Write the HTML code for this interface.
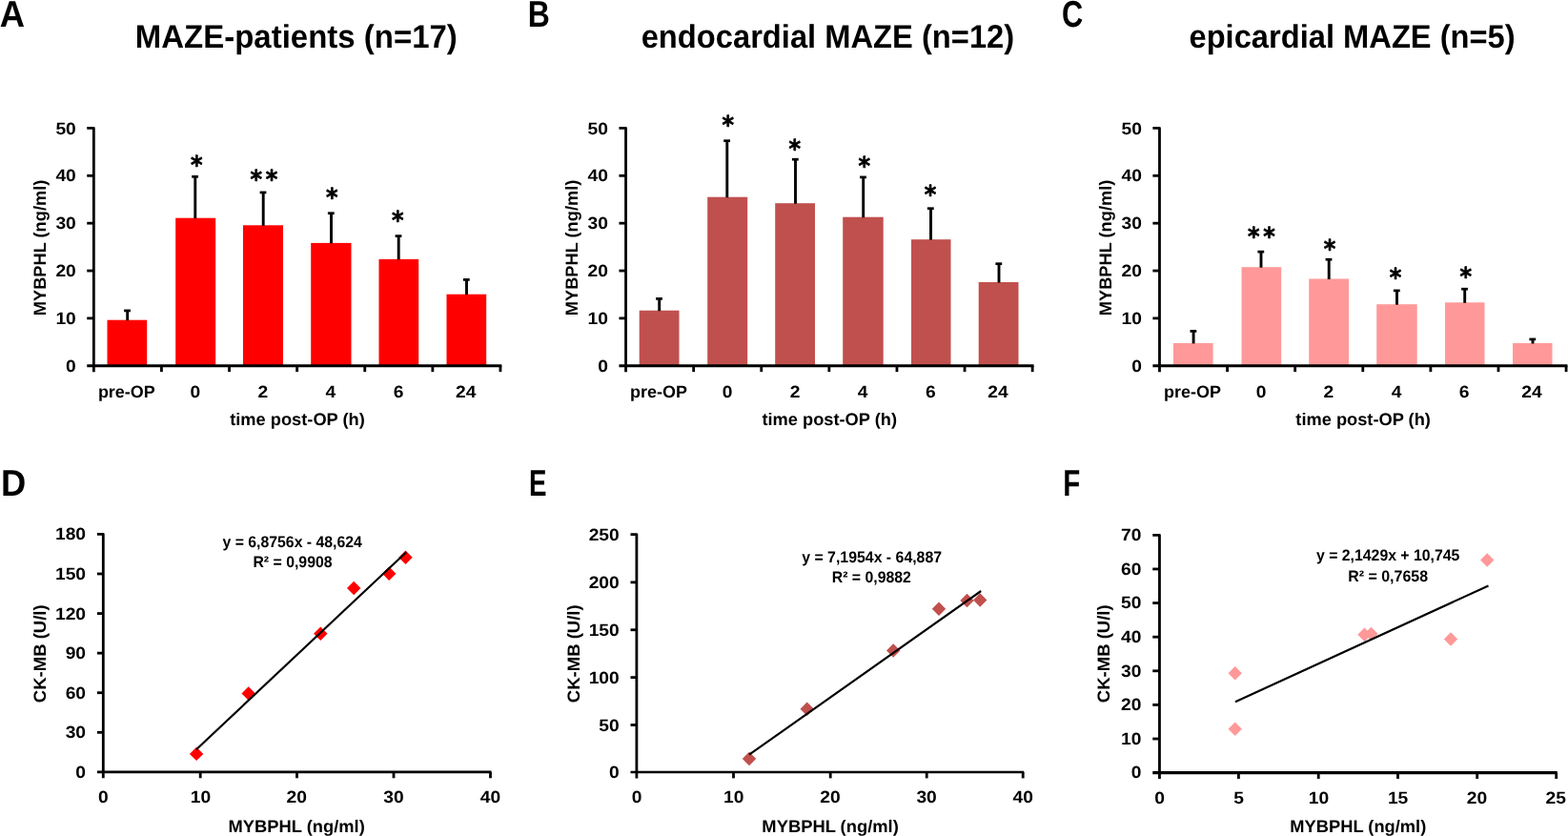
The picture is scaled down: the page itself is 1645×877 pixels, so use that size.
<!DOCTYPE html>
<html lang="en"><head><meta charset="utf-8"><title>MYBPHL and CK-MB after MAZE procedure</title>
<style>
html,body{margin:0;padding:0;background:#fff;}
body{width:1645px;height:877px;overflow:hidden;}
svg{display:block;}
text{font-family:"Liberation Sans", sans-serif;font-weight:bold;fill:#000;text-rendering:geometricPrecision;}
text.s{font-family:"DejaVu Sans","Liberation Sans",sans-serif;stroke:#000;stroke-width:0.75px;stroke-linejoin:round;}
</style></head><body>
<svg width="1645" height="877" viewBox="0 0 1645 877">
<rect width="1645" height="877" fill="#fff"/>
<g>
<rect x="112.50" y="335.70" width="41.70" height="48.03" fill="#FF0000"/>
<rect x="184.20" y="228.70" width="42.00" height="155.03" fill="#FF0000"/>
<rect x="255.00" y="236.30" width="42.00" height="147.43" fill="#FF0000"/>
<rect x="326.20" y="254.90" width="42.30" height="128.83" fill="#FF0000"/>
<rect x="397.50" y="271.90" width="41.70" height="111.83" fill="#FF0000"/>
<rect x="468.50" y="308.70" width="41.70" height="75.03" fill="#FF0000"/>
<line x1="133.70" y1="325.90" x2="133.70" y2="336.20" stroke="#000" stroke-width="2.9" stroke-linecap="butt"/>
<line x1="130.10" y1="325.90" x2="136.90" y2="325.90" stroke="#000" stroke-width="2.7" stroke-linecap="butt"/>
<line x1="204.80" y1="185.30" x2="204.80" y2="229.20" stroke="#000" stroke-width="2.9" stroke-linecap="butt"/>
<line x1="201.20" y1="185.30" x2="208.00" y2="185.30" stroke="#000" stroke-width="2.7" stroke-linecap="butt"/>
<line x1="276.20" y1="201.90" x2="276.20" y2="236.80" stroke="#000" stroke-width="2.9" stroke-linecap="butt"/>
<line x1="272.60" y1="201.90" x2="279.40" y2="201.90" stroke="#000" stroke-width="2.7" stroke-linecap="butt"/>
<line x1="347.50" y1="223.70" x2="347.50" y2="255.40" stroke="#000" stroke-width="2.9" stroke-linecap="butt"/>
<line x1="343.90" y1="223.70" x2="350.70" y2="223.70" stroke="#000" stroke-width="2.7" stroke-linecap="butt"/>
<line x1="418.20" y1="247.60" x2="418.20" y2="272.40" stroke="#000" stroke-width="2.9" stroke-linecap="butt"/>
<line x1="414.60" y1="247.60" x2="421.40" y2="247.60" stroke="#000" stroke-width="2.7" stroke-linecap="butt"/>
<line x1="489.50" y1="293.40" x2="489.50" y2="309.20" stroke="#000" stroke-width="2.9" stroke-linecap="butt"/>
<line x1="485.90" y1="293.40" x2="492.70" y2="293.40" stroke="#000" stroke-width="2.7" stroke-linecap="butt"/>
<path d="M91.25 134.47L98.35 134.47L98.35 390.13" fill="none" stroke="#000" stroke-width="2.8" stroke-linejoin="round" stroke-linecap="butt"/>
<line x1="91.25" y1="383.73" x2="526.35" y2="383.73" stroke="#000" stroke-width="3.0" stroke-linecap="butt"/>
<line x1="91.25" y1="333.88" x2="98.35" y2="333.88" stroke="#000" stroke-width="2.8" stroke-linecap="butt"/>
<line x1="91.25" y1="284.03" x2="98.35" y2="284.03" stroke="#000" stroke-width="2.8" stroke-linecap="butt"/>
<line x1="91.25" y1="234.17" x2="98.35" y2="234.17" stroke="#000" stroke-width="2.8" stroke-linecap="butt"/>
<line x1="91.25" y1="184.32" x2="98.35" y2="184.32" stroke="#000" stroke-width="2.8" stroke-linecap="butt"/>
<line x1="169.45" y1="383.73" x2="169.45" y2="390.13" stroke="#000" stroke-width="2.8" stroke-linecap="butt"/>
<line x1="240.55" y1="383.73" x2="240.55" y2="390.13" stroke="#000" stroke-width="2.8" stroke-linecap="butt"/>
<line x1="311.65" y1="383.73" x2="311.65" y2="390.13" stroke="#000" stroke-width="2.8" stroke-linecap="butt"/>
<line x1="382.75" y1="383.73" x2="382.75" y2="390.13" stroke="#000" stroke-width="2.8" stroke-linecap="butt"/>
<line x1="453.85" y1="383.73" x2="453.85" y2="390.13" stroke="#000" stroke-width="2.8" stroke-linecap="butt"/>
<line x1="524.95" y1="383.73" x2="524.95" y2="390.13" stroke="#000" stroke-width="2.8" stroke-linecap="butt"/>
</g>
<g>
<rect x="670.70" y="325.70" width="41.80" height="58.03" fill="#C0504D"/>
<rect x="742.20" y="206.70" width="42.00" height="177.03" fill="#C0504D"/>
<rect x="813.20" y="213.20" width="41.80" height="170.53" fill="#C0504D"/>
<rect x="884.20" y="227.70" width="42.50" height="156.03" fill="#C0504D"/>
<rect x="956.00" y="251.20" width="41.50" height="132.53" fill="#C0504D"/>
<rect x="1026.70" y="296.00" width="41.80" height="87.73" fill="#C0504D"/>
<line x1="691.70" y1="313.40" x2="691.70" y2="326.20" stroke="#000" stroke-width="2.9" stroke-linecap="butt"/>
<line x1="688.10" y1="313.40" x2="694.90" y2="313.40" stroke="#000" stroke-width="2.7" stroke-linecap="butt"/>
<line x1="762.80" y1="147.70" x2="762.80" y2="207.20" stroke="#000" stroke-width="2.9" stroke-linecap="butt"/>
<line x1="759.20" y1="147.70" x2="766.00" y2="147.70" stroke="#000" stroke-width="2.7" stroke-linecap="butt"/>
<line x1="834.50" y1="167.20" x2="834.50" y2="213.70" stroke="#000" stroke-width="2.9" stroke-linecap="butt"/>
<line x1="830.90" y1="167.20" x2="837.70" y2="167.20" stroke="#000" stroke-width="2.7" stroke-linecap="butt"/>
<line x1="905.70" y1="185.90" x2="905.70" y2="228.20" stroke="#000" stroke-width="2.9" stroke-linecap="butt"/>
<line x1="902.10" y1="185.90" x2="908.90" y2="185.90" stroke="#000" stroke-width="2.7" stroke-linecap="butt"/>
<line x1="976.50" y1="218.70" x2="976.50" y2="251.70" stroke="#000" stroke-width="2.9" stroke-linecap="butt"/>
<line x1="972.90" y1="218.70" x2="979.70" y2="218.70" stroke="#000" stroke-width="2.7" stroke-linecap="butt"/>
<line x1="1048.00" y1="276.70" x2="1048.00" y2="296.50" stroke="#000" stroke-width="2.9" stroke-linecap="butt"/>
<line x1="1044.40" y1="276.70" x2="1051.20" y2="276.70" stroke="#000" stroke-width="2.7" stroke-linecap="butt"/>
<path d="M649.45 134.47L656.55 134.47L656.55 390.13" fill="none" stroke="#000" stroke-width="2.8" stroke-linejoin="round" stroke-linecap="butt"/>
<line x1="649.45" y1="383.73" x2="1084.55" y2="383.73" stroke="#000" stroke-width="3.0" stroke-linecap="butt"/>
<line x1="649.45" y1="333.88" x2="656.55" y2="333.88" stroke="#000" stroke-width="2.8" stroke-linecap="butt"/>
<line x1="649.45" y1="284.03" x2="656.55" y2="284.03" stroke="#000" stroke-width="2.8" stroke-linecap="butt"/>
<line x1="649.45" y1="234.17" x2="656.55" y2="234.17" stroke="#000" stroke-width="2.8" stroke-linecap="butt"/>
<line x1="649.45" y1="184.32" x2="656.55" y2="184.32" stroke="#000" stroke-width="2.8" stroke-linecap="butt"/>
<line x1="727.65" y1="383.73" x2="727.65" y2="390.13" stroke="#000" stroke-width="2.8" stroke-linecap="butt"/>
<line x1="798.75" y1="383.73" x2="798.75" y2="390.13" stroke="#000" stroke-width="2.8" stroke-linecap="butt"/>
<line x1="869.85" y1="383.73" x2="869.85" y2="390.13" stroke="#000" stroke-width="2.8" stroke-linecap="butt"/>
<line x1="940.95" y1="383.73" x2="940.95" y2="390.13" stroke="#000" stroke-width="2.8" stroke-linecap="butt"/>
<line x1="1012.05" y1="383.73" x2="1012.05" y2="390.13" stroke="#000" stroke-width="2.8" stroke-linecap="butt"/>
<line x1="1083.15" y1="383.73" x2="1083.15" y2="390.13" stroke="#000" stroke-width="2.8" stroke-linecap="butt"/>
</g>
<g>
<rect x="1231.00" y="359.90" width="41.60" height="23.83" fill="#FF9999"/>
<rect x="1302.50" y="280.20" width="41.70" height="103.53" fill="#FF9999"/>
<rect x="1373.20" y="292.50" width="41.80" height="91.23" fill="#FF9999"/>
<rect x="1444.20" y="319.20" width="42.50" height="64.53" fill="#FF9999"/>
<rect x="1516.00" y="317.30" width="41.50" height="66.43" fill="#FF9999"/>
<rect x="1587.00" y="360.00" width="41.50" height="23.73" fill="#FF9999"/>
<line x1="1252.10" y1="347.40" x2="1252.10" y2="360.40" stroke="#000" stroke-width="2.9" stroke-linecap="butt"/>
<line x1="1248.50" y1="347.40" x2="1255.30" y2="347.40" stroke="#000" stroke-width="2.7" stroke-linecap="butt"/>
<line x1="1323.00" y1="264.10" x2="1323.00" y2="280.70" stroke="#000" stroke-width="2.9" stroke-linecap="butt"/>
<line x1="1319.40" y1="264.10" x2="1326.20" y2="264.10" stroke="#000" stroke-width="2.7" stroke-linecap="butt"/>
<line x1="1394.20" y1="272.20" x2="1394.20" y2="293.00" stroke="#000" stroke-width="2.9" stroke-linecap="butt"/>
<line x1="1390.60" y1="272.20" x2="1397.40" y2="272.20" stroke="#000" stroke-width="2.7" stroke-linecap="butt"/>
<line x1="1465.50" y1="304.90" x2="1465.50" y2="319.70" stroke="#000" stroke-width="2.9" stroke-linecap="butt"/>
<line x1="1461.90" y1="304.90" x2="1468.70" y2="304.90" stroke="#000" stroke-width="2.7" stroke-linecap="butt"/>
<line x1="1536.70" y1="303.20" x2="1536.70" y2="317.80" stroke="#000" stroke-width="2.9" stroke-linecap="butt"/>
<line x1="1533.10" y1="303.20" x2="1539.90" y2="303.20" stroke="#000" stroke-width="2.7" stroke-linecap="butt"/>
<line x1="1608.00" y1="355.90" x2="1608.00" y2="360.50" stroke="#000" stroke-width="2.9" stroke-linecap="butt"/>
<line x1="1604.40" y1="355.90" x2="1611.20" y2="355.90" stroke="#000" stroke-width="2.7" stroke-linecap="butt"/>
<path d="M1209.38 134.47L1216.48 134.47L1216.48 390.13" fill="none" stroke="#000" stroke-width="2.8" stroke-linejoin="round" stroke-linecap="butt"/>
<line x1="1209.38" y1="383.73" x2="1644.48" y2="383.73" stroke="#000" stroke-width="3.0" stroke-linecap="butt"/>
<line x1="1209.38" y1="333.88" x2="1216.48" y2="333.88" stroke="#000" stroke-width="2.8" stroke-linecap="butt"/>
<line x1="1209.38" y1="284.03" x2="1216.48" y2="284.03" stroke="#000" stroke-width="2.8" stroke-linecap="butt"/>
<line x1="1209.38" y1="234.17" x2="1216.48" y2="234.17" stroke="#000" stroke-width="2.8" stroke-linecap="butt"/>
<line x1="1209.38" y1="184.32" x2="1216.48" y2="184.32" stroke="#000" stroke-width="2.8" stroke-linecap="butt"/>
<line x1="1287.58" y1="383.73" x2="1287.58" y2="390.13" stroke="#000" stroke-width="2.8" stroke-linecap="butt"/>
<line x1="1358.68" y1="383.73" x2="1358.68" y2="390.13" stroke="#000" stroke-width="2.8" stroke-linecap="butt"/>
<line x1="1429.78" y1="383.73" x2="1429.78" y2="390.13" stroke="#000" stroke-width="2.8" stroke-linecap="butt"/>
<line x1="1500.88" y1="383.73" x2="1500.88" y2="390.13" stroke="#000" stroke-width="2.8" stroke-linecap="butt"/>
<line x1="1571.98" y1="383.73" x2="1571.98" y2="390.13" stroke="#000" stroke-width="2.8" stroke-linecap="butt"/>
<line x1="1643.08" y1="383.73" x2="1643.08" y2="390.13" stroke="#000" stroke-width="2.8" stroke-linecap="butt"/>
</g>
<g>
<path d="M198.90 790.90L206.10 783.70L213.30 790.90L206.10 798.10Z" fill="#FF0000"/>
<path d="M253.50 727.50L260.70 720.30L267.90 727.50L260.70 734.70Z" fill="#FF0000"/>
<path d="M329.10 664.70L336.30 657.50L343.50 664.70L336.30 671.90Z" fill="#FF0000"/>
<path d="M364.00 617.00L371.20 609.80L378.40 617.00L371.20 624.20Z" fill="#FF0000"/>
<path d="M401.00 601.70L408.20 594.50L415.40 601.70L408.20 608.90Z" fill="#FF0000"/>
<path d="M418.30 584.70L425.50 577.50L432.70 584.70L425.50 591.90Z" fill="#FF0000"/>
<line x1="206.00" y1="786.20" x2="426.20" y2="579.20" stroke="#000" stroke-width="2.15" stroke-linecap="butt"/>
<path d="M101.90 560.40L108.30 560.40L108.30 816.30" fill="none" stroke="#000" stroke-width="2.8" stroke-linejoin="round" stroke-linecap="butt"/>
<line x1="101.90" y1="809.90" x2="515.50" y2="809.90" stroke="#000" stroke-width="2.7" stroke-linecap="butt"/>
<line x1="101.90" y1="768.32" x2="108.30" y2="768.32" stroke="#000" stroke-width="2.8" stroke-linecap="butt"/>
<line x1="101.90" y1="726.73" x2="108.30" y2="726.73" stroke="#000" stroke-width="2.8" stroke-linecap="butt"/>
<line x1="101.90" y1="685.15" x2="108.30" y2="685.15" stroke="#000" stroke-width="2.8" stroke-linecap="butt"/>
<line x1="101.90" y1="643.57" x2="108.30" y2="643.57" stroke="#000" stroke-width="2.8" stroke-linecap="butt"/>
<line x1="101.90" y1="601.98" x2="108.30" y2="601.98" stroke="#000" stroke-width="2.8" stroke-linecap="butt"/>
<line x1="210.20" y1="809.90" x2="210.20" y2="816.30" stroke="#000" stroke-width="2.8" stroke-linecap="butt"/>
<line x1="311.50" y1="809.90" x2="311.50" y2="816.30" stroke="#000" stroke-width="2.8" stroke-linecap="butt"/>
<line x1="413.00" y1="809.90" x2="413.00" y2="816.30" stroke="#000" stroke-width="2.8" stroke-linecap="butt"/>
<line x1="514.50" y1="809.90" x2="514.50" y2="816.30" stroke="#000" stroke-width="2.8" stroke-linecap="butt"/>
</g>
<g>
<path d="M778.80 796.00L786.00 788.80L793.20 796.00L786.00 803.20Z" fill="#C0504D"/>
<path d="M839.50 743.70L846.70 736.50L853.90 743.70L846.70 750.90Z" fill="#C0504D"/>
<path d="M930.00 682.50L937.20 675.30L944.40 682.50L937.20 689.70Z" fill="#C0504D"/>
<path d="M977.80 638.70L985.00 631.50L992.20 638.70L985.00 645.90Z" fill="#C0504D"/>
<path d="M1007.30 630.00L1014.50 622.80L1021.70 630.00L1014.50 637.20Z" fill="#C0504D"/>
<path d="M1021.00 629.50L1028.20 622.30L1035.40 629.50L1028.20 636.70Z" fill="#C0504D"/>
<line x1="786.00" y1="791.70" x2="1029.20" y2="620.00" stroke="#000" stroke-width="2.15" stroke-linecap="butt"/>
<path d="M661.50 560.60L667.90 560.60L667.90 816.40" fill="none" stroke="#000" stroke-width="2.8" stroke-linejoin="round" stroke-linecap="butt"/>
<line x1="661.50" y1="810.00" x2="1074.20" y2="810.00" stroke="#000" stroke-width="2.7" stroke-linecap="butt"/>
<line x1="661.50" y1="760.52" x2="667.90" y2="760.52" stroke="#000" stroke-width="2.8" stroke-linecap="butt"/>
<line x1="661.50" y1="710.64" x2="667.90" y2="710.64" stroke="#000" stroke-width="2.8" stroke-linecap="butt"/>
<line x1="661.50" y1="660.76" x2="667.90" y2="660.76" stroke="#000" stroke-width="2.8" stroke-linecap="butt"/>
<line x1="661.50" y1="610.88" x2="667.90" y2="610.88" stroke="#000" stroke-width="2.8" stroke-linecap="butt"/>
<line x1="769.50" y1="810.00" x2="769.50" y2="816.40" stroke="#000" stroke-width="2.8" stroke-linecap="butt"/>
<line x1="871.20" y1="810.00" x2="871.20" y2="816.40" stroke="#000" stroke-width="2.8" stroke-linecap="butt"/>
<line x1="972.20" y1="810.00" x2="972.20" y2="816.40" stroke="#000" stroke-width="2.8" stroke-linecap="butt"/>
<line x1="1073.20" y1="810.00" x2="1073.20" y2="816.40" stroke="#000" stroke-width="2.8" stroke-linecap="butt"/>
</g>
<g>
<path d="M1288.50 706.20L1295.70 699.00L1302.90 706.20L1295.70 713.40Z" fill="#FF9999"/>
<path d="M1288.50 764.70L1295.70 757.50L1302.90 764.70L1295.70 771.90Z" fill="#FF9999"/>
<path d="M1424.30 665.70L1431.50 658.50L1438.70 665.70L1431.50 672.90Z" fill="#FF9999"/>
<path d="M1431.30 665.00L1438.50 657.80L1445.70 665.00L1438.50 672.20Z" fill="#FF9999"/>
<path d="M1514.80 670.50L1522.00 663.30L1529.20 670.50L1522.00 677.70Z" fill="#FF9999"/>
<path d="M1553.00 587.50L1560.20 580.30L1567.40 587.50L1560.20 594.70Z" fill="#FF9999"/>
<line x1="1296.00" y1="736.20" x2="1561.50" y2="614.50" stroke="#000" stroke-width="2.15" stroke-linecap="butt"/>
<path d="M1209.25 561.35L1216.45 561.35L1216.45 817.05" fill="none" stroke="#000" stroke-width="2.8" stroke-linejoin="round" stroke-linecap="butt"/>
<line x1="1209.25" y1="810.65" x2="1633.70" y2="810.65" stroke="#000" stroke-width="3.2" stroke-linecap="butt"/>
<line x1="1209.25" y1="775.04" x2="1216.45" y2="775.04" stroke="#000" stroke-width="2.8" stroke-linecap="butt"/>
<line x1="1209.25" y1="739.42" x2="1216.45" y2="739.42" stroke="#000" stroke-width="2.8" stroke-linecap="butt"/>
<line x1="1209.25" y1="703.81" x2="1216.45" y2="703.81" stroke="#000" stroke-width="2.8" stroke-linecap="butt"/>
<line x1="1209.25" y1="668.19" x2="1216.45" y2="668.19" stroke="#000" stroke-width="2.8" stroke-linecap="butt"/>
<line x1="1209.25" y1="632.58" x2="1216.45" y2="632.58" stroke="#000" stroke-width="2.8" stroke-linecap="butt"/>
<line x1="1209.25" y1="596.96" x2="1216.45" y2="596.96" stroke="#000" stroke-width="2.8" stroke-linecap="butt"/>
<line x1="1299.40" y1="810.65" x2="1299.40" y2="817.05" stroke="#000" stroke-width="2.8" stroke-linecap="butt"/>
<line x1="1383.20" y1="810.65" x2="1383.20" y2="817.05" stroke="#000" stroke-width="2.8" stroke-linecap="butt"/>
<line x1="1466.50" y1="810.65" x2="1466.50" y2="817.05" stroke="#000" stroke-width="2.8" stroke-linecap="butt"/>
<line x1="1549.70" y1="810.65" x2="1549.70" y2="817.05" stroke="#000" stroke-width="2.8" stroke-linecap="butt"/>
<line x1="1632.70" y1="810.65" x2="1632.70" y2="817.05" stroke="#000" stroke-width="2.8" stroke-linecap="butt"/>
</g>
<g>
<text transform="translate(69.11 389.83) scale(1.0825 1.0000)" font-size="17.8">0</text>
<text transform="translate(58.40 339.98) scale(1.0825 1.0000)" font-size="17.8">10</text>
<text transform="translate(58.40 290.13) scale(1.0825 1.0000)" font-size="17.8">20</text>
<text transform="translate(58.40 240.27) scale(1.0825 1.0000)" font-size="17.8">30</text>
<text transform="translate(58.40 190.42) scale(1.0825 1.0000)" font-size="17.8">40</text>
<text transform="translate(58.40 140.57) scale(1.0825 1.0000)" font-size="17.8">50</text>
<text transform="translate(102.88 416.70) scale(1.0110 1.0000)" font-size="17.8">pre-OP</text>
<text transform="translate(199.53 416.80) scale(1.0825 1.0000)" font-size="17.8">0</text>
<text transform="translate(270.48 416.80) scale(1.0825 1.0000)" font-size="17.8">2</text>
<text transform="translate(341.58 416.80) scale(1.0825 1.0000)" font-size="17.8">4</text>
<text transform="translate(412.68 416.80) scale(1.0825 1.0000)" font-size="17.8">6</text>
<text transform="translate(478.12 416.80) scale(1.0825 1.0000)" font-size="17.8">24</text>
<text transform="translate(241.20 446.20) scale(1.0085 1.0000)" font-size="18.1">time post-OP (h)</text>
<text transform="translate(48.10 0) rotate(-90) translate(-331.14 0) scale(1.0073 1.0000)" font-size="18.1">MYBPHL (ng/ml)</text>
<text class="s" transform="translate(200.03 181.61) scale(0.8889 0.9634)" font-size="27">*</text>
<text class="s" letter-spacing="4.105" transform="translate(262.62 197.31) scale(0.8889 0.9634)" font-size="27">**</text>
<text class="s" transform="translate(342.02 216.31) scale(0.8889 0.9634)" font-size="27">*</text>
<text class="s" transform="translate(411.02 240.41) scale(0.8889 0.9634)" font-size="27">*</text>
<text transform="translate(627.31 389.83) scale(1.0825 1.0000)" font-size="17.8">0</text>
<text transform="translate(616.60 339.98) scale(1.0825 1.0000)" font-size="17.8">10</text>
<text transform="translate(616.60 290.13) scale(1.0825 1.0000)" font-size="17.8">20</text>
<text transform="translate(616.60 240.27) scale(1.0825 1.0000)" font-size="17.8">30</text>
<text transform="translate(616.60 190.42) scale(1.0825 1.0000)" font-size="17.8">40</text>
<text transform="translate(616.60 140.57) scale(1.0825 1.0000)" font-size="17.8">50</text>
<text transform="translate(661.08 416.70) scale(1.0110 1.0000)" font-size="17.8">pre-OP</text>
<text transform="translate(757.73 416.80) scale(1.0825 1.0000)" font-size="17.8">0</text>
<text transform="translate(828.68 416.80) scale(1.0825 1.0000)" font-size="17.8">2</text>
<text transform="translate(899.78 416.80) scale(1.0825 1.0000)" font-size="17.8">4</text>
<text transform="translate(970.88 416.80) scale(1.0825 1.0000)" font-size="17.8">6</text>
<text transform="translate(1036.32 416.80) scale(1.0825 1.0000)" font-size="17.8">24</text>
<text transform="translate(799.40 446.20) scale(1.0085 1.0000)" font-size="18.1">time post-OP (h)</text>
<text transform="translate(606.30 0) rotate(-90) translate(-331.14 0) scale(1.0073 1.0000)" font-size="18.1">MYBPHL (ng/ml)</text>
<text class="s" transform="translate(757.52 140.11) scale(0.8889 0.9634)" font-size="27">*</text>
<text class="s" transform="translate(827.42 164.71) scale(0.8889 0.9634)" font-size="27">*</text>
<text class="s" transform="translate(900.62 183.11) scale(0.8889 0.9634)" font-size="27">*</text>
<text class="s" transform="translate(969.83 213.01) scale(0.8889 0.9634)" font-size="27">*</text>
<text transform="translate(1187.24 389.83) scale(1.0825 1.0000)" font-size="17.8">0</text>
<text transform="translate(1176.53 339.98) scale(1.0825 1.0000)" font-size="17.8">10</text>
<text transform="translate(1176.53 290.13) scale(1.0825 1.0000)" font-size="17.8">20</text>
<text transform="translate(1176.53 240.27) scale(1.0825 1.0000)" font-size="17.8">30</text>
<text transform="translate(1176.53 190.42) scale(1.0825 1.0000)" font-size="17.8">40</text>
<text transform="translate(1176.53 140.57) scale(1.0825 1.0000)" font-size="17.8">50</text>
<text transform="translate(1221.01 416.70) scale(1.0110 1.0000)" font-size="17.8">pre-OP</text>
<text transform="translate(1317.66 416.80) scale(1.0825 1.0000)" font-size="17.8">0</text>
<text transform="translate(1388.61 416.80) scale(1.0825 1.0000)" font-size="17.8">2</text>
<text transform="translate(1459.71 416.80) scale(1.0825 1.0000)" font-size="17.8">4</text>
<text transform="translate(1530.81 416.80) scale(1.0825 1.0000)" font-size="17.8">6</text>
<text transform="translate(1596.25 416.80) scale(1.0825 1.0000)" font-size="17.8">24</text>
<text transform="translate(1359.33 446.20) scale(1.0085 1.0000)" font-size="18.1">time post-OP (h)</text>
<text transform="translate(1166.23 0) rotate(-90) translate(-331.14 0) scale(1.0073 1.0000)" font-size="18.1">MYBPHL (ng/ml)</text>
<text class="s" letter-spacing="4.105" transform="translate(1309.12 256.91) scale(0.8889 0.9634)" font-size="27">**</text>
<text class="s" transform="translate(1388.83 269.91) scale(0.8889 0.9634)" font-size="27">*</text>
<text class="s" transform="translate(1457.83 299.91) scale(0.8889 0.9634)" font-size="27">*</text>
<text class="s" transform="translate(1531.62 298.91) scale(0.8889 0.9634)" font-size="27">*</text>
<text transform="translate(141.84 50.20) scale(0.9614 1.0000)" font-size="34.3">MAZE-patients (n=17)</text>
<text transform="translate(672.68 50.20) scale(0.9532 1.0000)" font-size="34.3">endocardial MAZE (n=12)</text>
<text transform="translate(1247.48 50.20) scale(0.9525 1.0000)" font-size="34.3">epicardial MAZE (n=5)</text>
<text transform="translate(-0.27 27.90) scale(0.9324 1.0000)" font-size="39.0">A</text>
<text transform="translate(553.80 27.60) scale(0.8205 1.0000)" font-size="39.0">B</text>
<text transform="translate(1114.04 27.80) scale(0.7900 1.0000)" font-size="39.0">C</text>
<text transform="translate(1.03 519.80) scale(0.9313 1.0000)" font-size="39.0">D</text>
<text transform="translate(554.97 519.80) scale(0.7096 1.0000)" font-size="39.0">E</text>
<text transform="translate(1115.26 519.80) scale(0.7559 1.0000)" font-size="39.0">F</text>
<text transform="translate(79.36 815.90) scale(1.0825 1.0000)" font-size="17.8">0</text>
<text transform="translate(68.65 774.32) scale(1.0825 1.0000)" font-size="17.8">30</text>
<text transform="translate(68.65 732.73) scale(1.0825 1.0000)" font-size="17.8">60</text>
<text transform="translate(68.65 691.15) scale(1.0825 1.0000)" font-size="17.8">90</text>
<text transform="translate(57.93 649.57) scale(1.0825 1.0000)" font-size="17.8">120</text>
<text transform="translate(57.93 607.98) scale(1.0825 1.0000)" font-size="17.8">150</text>
<text transform="translate(57.93 566.40) scale(1.0825 1.0000)" font-size="17.8">180</text>
<text transform="translate(103.03 842.00) scale(1.0825 1.0000)" font-size="17.8">0</text>
<text transform="translate(199.77 842.00) scale(1.0825 1.0000)" font-size="17.8">10</text>
<text transform="translate(300.57 842.00) scale(1.0825 1.0000)" font-size="17.8">20</text>
<text transform="translate(402.22 842.00) scale(1.0825 1.0000)" font-size="17.8">30</text>
<text transform="translate(503.87 842.00) scale(1.0825 1.0000)" font-size="17.8">40</text>
<text transform="translate(239.55 872.50) scale(1.0130 1.0000)" font-size="18.1">MYBPHL (ng/ml)</text>
<text transform="translate(47.50 0) rotate(-90) translate(-737.18 0) scale(1.0230 1.0000)" font-size="18.1">CK-MB (U/l)</text>
<text transform="translate(233.50 574.10) scale(0.9526 1.0000)" font-size="16.6">y = 6,8756x - 48,624</text>
<text transform="translate(265.41 595.20) scale(0.9539 1.0000)" font-size="16.6">R² = 0,9908</text>
<text transform="translate(639.06 816.00) scale(1.0825 1.0000)" font-size="17.8">0</text>
<text transform="translate(628.35 766.52) scale(1.0825 1.0000)" font-size="17.8">50</text>
<text transform="translate(617.63 716.64) scale(1.0825 1.0000)" font-size="17.8">100</text>
<text transform="translate(617.63 666.76) scale(1.0825 1.0000)" font-size="17.8">150</text>
<text transform="translate(617.63 616.88) scale(1.0825 1.0000)" font-size="17.8">200</text>
<text transform="translate(617.63 566.60) scale(1.0825 1.0000)" font-size="17.8">250</text>
<text transform="translate(662.63 842.10) scale(1.0825 1.0000)" font-size="17.8">0</text>
<text transform="translate(759.07 842.10) scale(1.0825 1.0000)" font-size="17.8">10</text>
<text transform="translate(860.27 842.10) scale(1.0825 1.0000)" font-size="17.8">20</text>
<text transform="translate(961.42 842.10) scale(1.0825 1.0000)" font-size="17.8">30</text>
<text transform="translate(1062.57 842.10) scale(1.0825 1.0000)" font-size="17.8">40</text>
<text transform="translate(799.35 872.50) scale(1.0144 1.0000)" font-size="18.1">MYBPHL (ng/ml)</text>
<text transform="translate(607.50 0) rotate(-90) translate(-737.18 0) scale(1.0230 1.0000)" font-size="18.1">CK-MB (U/l)</text>
<text transform="translate(841.20 589.50) scale(0.9562 1.0000)" font-size="16.6">y = 7,1954x - 64,887</text>
<text transform="translate(872.71 611.20) scale(0.9539 1.0000)" font-size="16.6">R² = 0,9882</text>
<text transform="translate(1186.66 816.35) scale(1.0825 1.0000)" font-size="17.8">0</text>
<text transform="translate(1175.95 780.74) scale(1.0825 1.0000)" font-size="17.8">10</text>
<text transform="translate(1175.95 745.12) scale(1.0825 1.0000)" font-size="17.8">20</text>
<text transform="translate(1175.95 709.51) scale(1.0825 1.0000)" font-size="17.8">30</text>
<text transform="translate(1175.95 673.89) scale(1.0825 1.0000)" font-size="17.8">40</text>
<text transform="translate(1175.95 638.28) scale(1.0825 1.0000)" font-size="17.8">50</text>
<text transform="translate(1175.95 602.66) scale(1.0825 1.0000)" font-size="17.8">60</text>
<text transform="translate(1175.95 567.05) scale(1.0825 1.0000)" font-size="17.8">70</text>
<text transform="translate(1211.18 842.75) scale(1.0825 1.0000)" font-size="17.8">0</text>
<text transform="translate(1294.13 842.75) scale(1.0825 1.0000)" font-size="17.8">5</text>
<text transform="translate(1372.77 842.75) scale(1.0825 1.0000)" font-size="17.8">10</text>
<text transform="translate(1455.92 842.75) scale(1.0825 1.0000)" font-size="17.8">15</text>
<text transform="translate(1538.77 842.75) scale(1.0825 1.0000)" font-size="17.8">20</text>
<text transform="translate(1621.62 842.75) scale(1.0825 1.0000)" font-size="17.8">25</text>
<text transform="translate(1353.36 872.50) scale(1.0108 1.0000)" font-size="18.1">MYBPHL (ng/ml)</text>
<text transform="translate(1164.40 0) rotate(-90) translate(-737.18 0) scale(1.0230 1.0000)" font-size="18.1">CK-MB (U/l)</text>
<text transform="translate(1381.00 588.20) scale(0.9528 1.0000)" font-size="16.6">y = 2,1429x + 10,745</text>
<text transform="translate(1414.20 609.50) scale(0.9620 1.0000)" font-size="16.6">R² = 0,7658</text>
</g>
</svg>
</body></html>
